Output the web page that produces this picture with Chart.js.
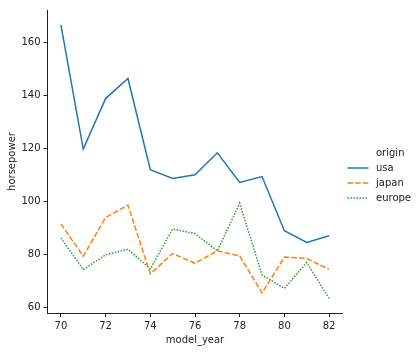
<!DOCTYPE html>
<html>
<head>
<meta charset="utf-8">
<script src="https://cdn.jsdelivr.net/npm/chart.js@4/dist/chart.umd.min.js"></script>
<style>
  html, body { margin: 0; padding: 0; background: #fff; }
  #wrap { width: 419px; height: 352px; }
</style>
</head>
<body>
<div id="wrap"><canvas id="chart" width="419" height="352"></canvas></div>
<script>
// ==================== DATA ====================
const years = [70, 71, 72, 73, 74, 75, 76, 77, 78, 79, 80, 81, 82];
const usaHp = [166.8, 119.8, 138.9, 146.5, 112.0, 108.7, 110.1, 118.4, 107.2, 109.4, 88.9, 84.5, 87.0];
const japanHp = [91.5, 79.3, 93.9, 98.6, 72.6, 80.3, 76.6, 81.3, 79.4, 65.4, 79.0, 78.4, 74.3];
const europeHp = [86.2, 74.2, 79.8, 81.9, 74.5, 89.6, 87.8, 81.3, 99.3, 72.2, 67.1, 76.9, 63.3];
const xTicks = [70, 72, 74, 76, 78, 80, 82];
const yTicks = [60, 80, 100, 120, 140, 160];

const FONT = 'DejaVu Sans';
const TEXT = '#222';

function toPoints(vals) {
    return years.map((y, i) => ({ x: y, y: vals[i] }));
}

// ==================== LEGEND (drawn on canvas) ====================
const sideLegend = {
    id: 'sideLegend',
    afterDraw(chart) {
        const ctx = chart.ctx;
        ctx.save();
        ctx.font = '10px "' + FONT + '"';
        ctx.fillStyle = TEXT;
        ctx.textBaseline = 'middle';
        ctx.textAlign = 'left';
        ctx.fillText('origin', 376, 153);
        chart.data.datasets.forEach((ds, i) => {
            const y = 168 + i * 15;
            ctx.beginPath();
            ctx.strokeStyle = ds.borderColor;
            ctx.lineWidth = ds.borderWidth;
            ctx.setLineDash(ds.borderDash || []);
            ctx.moveTo(347.5, y);
            ctx.lineTo(368.5, y);
            ctx.stroke();
            ctx.setLineDash([]);
            ctx.fillText(ds.label, 376, y);
        });
        ctx.restore();
    }
};

// ==================== CHART ====================
const ctx = document.getElementById('chart').getContext('2d');
new Chart(ctx, {
    type: 'line',
    data: {
        datasets: [
            { label: 'usa', data: toPoints(usaHp), borderColor: '#1f77b4', borderWidth: 1.5, pointRadius: 0, tension: 0, fill: false },
            { label: 'japan', data: toPoints(japanHp), borderColor: '#ff7f0e', borderWidth: 1.5, borderDash: [5.5, 2.2], pointRadius: 0, tension: 0, fill: false },
            { label: 'europe', data: toPoints(europeHp), borderColor: '#2ca02c', borderWidth: 1.5, borderDash: [1.5, 1.5], pointRadius: 0, tension: 0, fill: false }
        ]
    },
    options: {
        responsive: false,
        animation: false,
        layout: { padding: { top: 10, right: 76.5, left: 0, bottom: 0 } },
        plugins: {
            legend: { display: false },
            tooltip: { enabled: false }
        },
        scales: {
            x: {
                type: 'linear',
                min: 69.4,
                max: 82.6,
                afterFit: s => { s.height = 39; },
                afterBuildTicks: s => { s.ticks = xTicks.map(v => ({ value: v })); },
                grid: { display: true, drawOnChartArea: false, drawTicks: true, tickLength: 4, color: '#222', lineWidth: 1 },
                border: { display: true, color: '#222', width: 1 },
                ticks: { color: TEXT, padding: 3, maxRotation: 0, font: { family: FONT, size: 10 } },
                title: { display: true, text: 'model_year', color: TEXT, padding: { top: 0, bottom: 6 }, font: { family: FONT, size: 10 } }
            },
            y: {
                type: 'linear',
                min: 57.8,
                max: 172.4,
                afterFit: s => { s.width = 47.5; },
                afterBuildTicks: s => { s.ticks = yTicks.map(v => ({ value: v })); },
                grid: { display: true, drawOnChartArea: false, drawTicks: true, tickLength: 4, color: '#222', lineWidth: 1 },
                border: { display: true, color: '#222', width: 1 },
                ticks: { color: TEXT, padding: 3, font: { family: FONT, size: 10 } },
                title: { display: true, text: 'horsepower', color: TEXT, padding: { top: 6, bottom: 0 }, font: { family: FONT, size: 10 } }
            }
        }
    },
    plugins: [sideLegend]
});
</script>
</body>
</html>
